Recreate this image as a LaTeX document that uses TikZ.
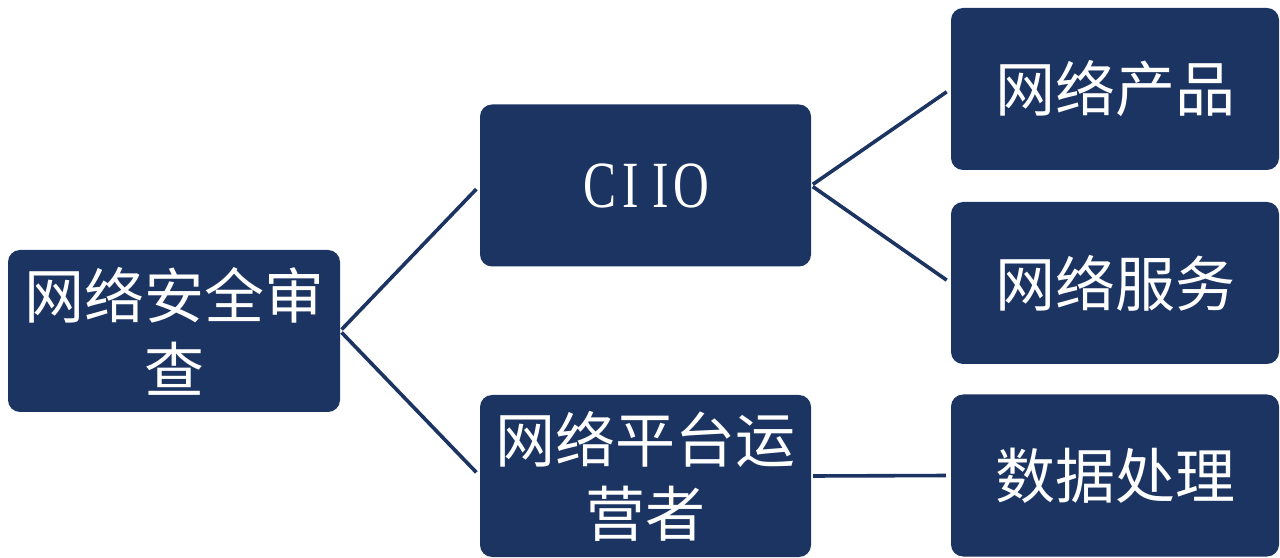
\documentclass[tikz,border=0pt]{standalone}
\usepackage{fontspec}
\newfontfamily\cjk{Noto Sans CJK SC}
\newfontfamily\latinserif[FakeStretch=0.75]{Liberation Serif}
\definecolor{navy}{HTML}{1C3461}
\tikzset{
  box/.style={fill=navy, draw=none, rounded corners=12pt, minimum width=331pt, minimum height=162pt,
    inner sep=0pt, text=white, align=center, font=\cjk\fontsize{60}{74}\selectfont},
  rbox/.style={box, minimum width=328pt},
  link/.style={draw=navy, line width=3.6pt, shorten >=5pt, shorten <=2pt}
}
\newcommand{\lt}[1]{\makebox[30.5pt]{#1}}
\begin{document}
\begin{tikzpicture}[x=1pt,y=1pt]
\useasboundingbox[fill=white] (0,0) rectangle (1280,557);
\node[box, minimum width=332pt] (root) at (174,226) {网络安全审\\查};
\node[box] (ciio) at (645.5,371.5) {\latinserif\fontsize{66}{74}\selectfont\lt{C}\lt{I}\lt{I}\lt{O}};
\node[box] (plat) at (645.5,81) {网络平台运\\营者};
\node[rbox] (prod) at (1115,468) {网络产品};
\node[rbox] (serv) at (1115,274) {网络服务};
\node[rbox] (data) at (1115,81.5) {数据处理};
\draw[link] (root.east) -- (ciio.west);
\draw[link] (root.east) -- (plat.west);
\draw[link] (ciio.east) -- (prod.west);
\draw[link] (ciio.east) -- (serv.west);
\draw[link] (plat.east) -- (data.west);
\end{tikzpicture}
\end{document}
